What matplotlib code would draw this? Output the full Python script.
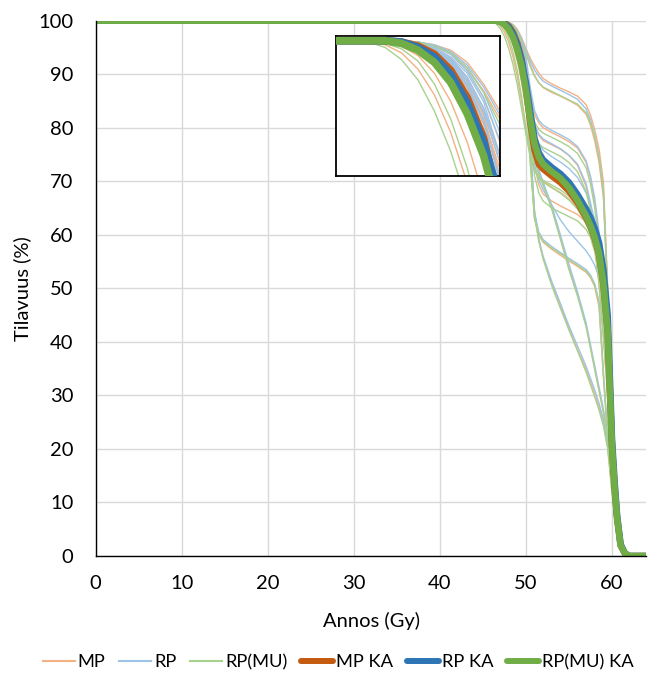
import matplotlib
matplotlib.use("Agg")
import matplotlib.pyplot as plt
from matplotlib.lines import Line2D

plt.rcParams['font.family'] = ['Lato', 'DejaVu Sans']

# Dose grid (Gy)
dose = [0, 46, 46.5, 47, 47.5, 48, 48.5, 49, 49.5, 50, 50.5, 51, 51.5, 52, 53, 54, 55,
        56, 57, 57.5, 58, 58.5, 59, 59.5, 60, 60.3, 60.6, 61, 61.5, 62, 64]

# Individual DVH curves, volume (%)
mp_curves = [
    [100,100,100,100,99.9,99.7,99.3,98.4,96.8,94.8,93.0,91.5,90.2,89.2,88.2,87.4,86.7,85.9,84.3,82.4,79.6,76.0,70.0,50.5,27,17,9,3,0.7,0,0],
    [100,100,100,100,99.9,99.6,99.1,98.0,96.3,94.2,91.8,89.8,88.4,87.5,86.6,85.9,85.1,84.2,82.5,80.5,77.5,73.5,67,49,26,16,8.5,2.7,0.6,0,0],
    [100,100,100,100,99.9,99.6,99.0,97.8,95.8,92.5,86.5,82.5,80.9,80.0,79.1,78.3,77.4,76.2,73.5,70.5,66,59.5,50,37,22,14,7.5,2.3,0.5,0,0],
    [100,100,100,99.9,99.7,99.3,98.5,97.0,94.7,91.0,85.0,80.5,78.6,77.6,76.8,76.0,74.8,73.0,69.0,65.0,58.5,50.5,40.5,30,18,11.5,6,1.8,0.4,0,0],
    [100,100,99.9,99.6,98.9,97.6,95.5,92.5,88.5,83.5,78.5,75.0,73.4,72.5,71.2,70.0,68.5,66.5,63.5,61.5,58.5,54.5,47.5,37,20,13,7,2,0.5,0,0],
    [100,99.9,99.7,99.1,97.9,96.0,93.2,89.5,84.8,79.5,75.0,72.2,70.8,70.0,68.9,67.9,66.7,65.2,62.8,61.0,58.0,54.0,47.0,36,19,12,6.5,2,0.5,0,0],
    [100,100,100,100,99.8,99.4,98.7,97.3,95.0,91.5,82.0,73.0,69.3,67.6,66.3,65.4,64.6,63.8,62.3,60.8,58.0,52.5,43.0,31,17,10.5,5.5,1.6,0.4,0,0],
    [100,100,100,99.9,99.7,99.3,98.5,97.0,94.5,90.0,76.5,64.0,58.8,55.6,50.8,46.8,42.5,38.5,34.8,32.5,30.2,27.8,25.0,20.5,12,7.5,4,1.1,0.3,0,0],
    [100,100,100,99.9,99.6,99.1,98.2,96.5,93.8,89.0,74.5,63.0,60.0,58.6,57.3,56.2,55.1,54.1,53.0,52.0,50.3,46.5,33.5,22,13,8,4.2,1.2,0.3,0,0],
    [100,100,100,99.9,99.7,99.2,98.3,96.7,94.2,90.5,82.0,74.5,71.7,69.5,65.0,59.5,53.8,48.8,43.0,39.0,35.0,31.0,27.0,22.0,13,8,4.2,1.2,0.3,0,0],
]
rp_curves = [
    [100,100,100,100,99.9,99.7,99.2,98.2,96.6,94.5,92.5,90.8,89.6,88.7,87.8,87.0,86.2,85.3,83.5,81.5,78.5,74.5,68.0,48,25,15.5,8,2.5,0.6,0,0],
    [100,100,100,100,99.9,99.6,99.1,98.0,96.2,93.2,87.5,83.2,81.4,80.5,79.5,78.7,77.8,76.5,73.8,71.0,66.8,60.5,51.5,39,23,14.5,7.8,2.4,0.5,0,0],
    [100,100,100,99.9,99.7,99.3,98.6,97.2,95.0,91.5,85.5,80.5,78.8,77.9,77.0,76.1,74.9,73.2,69.5,66.0,60.0,52.5,42.5,31,18.5,11.5,6,1.8,0.4,0,0],
    [100,100,100,99.9,99.7,99.2,98.3,96.6,94.0,89.8,82.5,77.0,75.0,74.0,72.7,71.6,70.2,68.3,65.5,63.6,61.0,57.5,51.0,40.5,22,14,7.5,2.2,0.5,0,0],
    [100,100,100,100,99.9,99.6,99.0,97.8,95.8,92.6,85.0,79.2,77.0,75.8,74.6,73.6,72.4,70.7,67.8,65.8,62.8,58.5,51.5,40,21,13.5,7,2,0.5,0,0],
    [100,100,100,99.9,99.7,99.3,98.5,97.0,94.7,91.0,81.0,73.0,70.2,68.4,65.6,62.8,60.6,58.8,57.0,55.8,54.3,52.0,45.0,32.0,17.5,11,5.8,1.7,0.4,0,0],
    [100,100,100,99.9,99.7,99.2,98.4,96.8,94.2,89.5,75.5,64.5,59.3,56.0,51.3,47.2,43.0,39.2,35.4,33.2,31.0,28.5,25.5,21,12.5,7.8,4.2,1.2,0.3,0,0],
    [100,100,100,100,99.8,99.5,98.8,97.6,95.5,91.5,77.5,64.0,60.5,59.1,57.8,56.7,55.6,54.6,53.5,52.5,50.8,47.5,34.5,22.5,13.5,8.3,4.4,1.3,0.3,0,0],
    [100,100,100,100,99.8,99.4,98.7,97.3,95.0,91.5,83.5,75.5,72.2,69.8,65.5,60.0,54.5,49.3,43.5,39.5,35.5,31.5,27.5,22.5,13.2,8.1,4.3,1.2,0.3,0,0],
]
mu_curves = [
    [100,100,100,100,99.9,99.6,99.1,98.0,96.2,93.8,91.5,89.6,88.4,87.6,86.8,86.0,85.2,84.4,82.8,81.0,78.3,74.5,68.5,49.5,26,16,8.5,2.6,0.6,0,0],
    [100,100,100,99.8,99.4,98.6,97.2,95.0,92.0,88.0,84.0,81.0,79.7,79.0,78.2,77.4,76.5,75.2,72.5,69.5,65.0,58.5,49.0,36.5,21.5,13.5,7.2,2.2,0.5,0,0],
    [100,100,100,99.8,99.3,98.4,96.9,94.6,91.5,87.0,82.0,78.5,77.0,76.3,75.5,74.7,73.5,71.8,68.0,64.5,58.5,51.0,41.5,30.5,18,11,5.8,1.7,0.4,0,0],
    [100,100,99.8,99.4,98.5,96.8,94.2,90.6,85.8,80.0,75.0,72.0,70.6,69.8,68.8,67.8,66.5,64.8,62.0,60.2,57.5,53.5,46.5,36,19,12,6.5,2,0.5,0,0],
    [100,100,100,99.8,99.3,98.4,96.9,94.6,91.5,86.5,78.5,71.0,67.8,66.3,65.0,64.2,63.4,62.6,61.0,59.5,56.8,51.5,42.0,30.5,16.5,10.3,5.4,1.6,0.4,0,0],
    [100,100,100,99.8,99.3,98.4,96.9,94.6,91.5,86.5,74.0,63.5,58.8,55.5,50.5,46.3,42.2,38.3,34.3,32.0,29.7,27.2,24.3,20,11.8,7.3,3.9,1.1,0.3,0,0],
    [100,100,100,99.8,99.3,98.4,96.9,94.6,91.5,86.5,73.5,63.0,60.2,58.8,57.5,56.5,55.4,54.3,53.2,52.2,50.5,47.0,34.0,22.3,12.8,7.9,4.1,1.2,0.3,0,0],
    [100,99.9,99.5,98.6,97.1,94.8,91.8,88.0,83.5,78.8,74.5,72.0,70.9,70.2,69.3,68.4,67.2,65.6,62.8,61.0,58.3,54.3,47.3,36.5,19.5,12.3,6.6,2,0.5,0,0],
    [100,100,100,99.8,99.3,98.4,96.9,94.6,91.5,87.0,80.5,74.0,71.2,69.2,64.8,59.2,53.5,48.5,42.8,38.8,34.8,30.8,26.8,22.0,12.8,7.9,4.1,1.2,0.3,0,0],
]

# Averages (KA)
mp_ka = [100,100,100,99.9,99.6,99.0,97.8,95.8,92.8,87.5,81,75.8,73.2,72.3,71,69.8,68.2,66,63.2,61.5,59.3,56.3,50.8,42,20.5,13,7,2,0.5,0,0]
rp_ka = [100,100,100,99.9,99.5,98.8,97.5,95.4,92.5,88.3,83,78,75.3,74,72.6,71.4,69.8,67.5,64.8,63.2,61.2,58.5,53.5,45,22,14,7.5,2.2,0.5,0,0]
mu_ka = [100,100,100,99.8,99.3,98.4,96.9,94.6,91.5,87,81.5,77,74.5,73.2,71.8,70.6,68.8,66.4,63.5,61.7,59.5,56.5,51,42,20.5,13,7,2,0.5,0,0]

labels = ["MP", "RP", "RP(MU)", "MP KA", "RP KA", "RP(MU) KA"]
thin_colors = ["#F4B183", "#9DC3E6", "#A9D18E"]
thick_colors = ["#C55A11", "#2E75B6", "#70AD47"]
x_ticks = [0, 10, 20, 30, 40, 50, 60]
y_ticks = [0, 10, 20, 30, 40, 50, 60, 70, 80, 90, 100]

fig = plt.figure(figsize=(6.48, 6.82), dpi=100)
ax = fig.add_axes([95.7/648, 1-556/682, (646.4-95.7)/648, (556-20.7)/682])


def draw(a, thick_lw, thin_lw):
    for curves, c in zip([mp_curves, rp_curves, mu_curves], thin_colors):
        for v in curves:
            a.plot(dose, v, color=c, lw=thin_lw, solid_joinstyle='round', zorder=2)
    for v, c in zip([mp_ka, rp_ka, mu_ka], thick_colors):
        a.plot(dose, v, color=c, lw=thick_lw, solid_joinstyle='round',
               solid_capstyle='butt', zorder=3)


draw(ax, 4.7, 1.0)
ax.set_xlim(0, 64)
ax.set_ylim(0, 100)
ax.set_xticks(x_ticks)
ax.set_yticks(y_ticks)
ax.grid(True, color="#D9D9D9", lw=1.0)
ax.set_axisbelow(True)
ax.tick_params(length=0, labelsize=14.5, colors="black")
ax.tick_params(axis='y', pad=16)
ax.tick_params(axis='x', pad=14)
for s in ["top", "right"]:
    ax.spines[s].set_visible(False)
for s in ["left", "bottom"]:
    ax.spines[s].set_color("black")
    ax.spines[s].set_linewidth(1.0)
    ax.spines[s].set_zorder(4)
ax.set_xlabel("Annos (Gy)", fontsize=14.5, labelpad=14)
ax.set_ylabel("Tilavuus (%)", fontsize=14.5, labelpad=5)

# Inset zoom of the shoulder
axin = fig.add_axes([336/648, 1-176/682, 164/648, 140/682])
draw(axin, 5.5, 1.0)
axin.set_xlim(45, 50)
axin.set_ylim(90, 100.35)
axin.set_xticks([])
axin.set_yticks([])
axin.set_facecolor("white")
for s in axin.spines.values():
    s.set_color("black")
    s.set_linewidth(1.3)

handles = [Line2D([], [], color=c, lw=1.5) for c in thin_colors] + \
          [Line2D([], [], color=c, lw=4.3, solid_capstyle='round') for c in thick_colors]
fig.legend(handles, labels, loc="center", bbox_to_anchor=(0.522, 0.029), ncol=6,
           frameon=False, fontsize=13.2, handlelength=1.75, handletextpad=0.15,
           columnspacing=0.75)

fig.savefig("out.png", dpi=100)
